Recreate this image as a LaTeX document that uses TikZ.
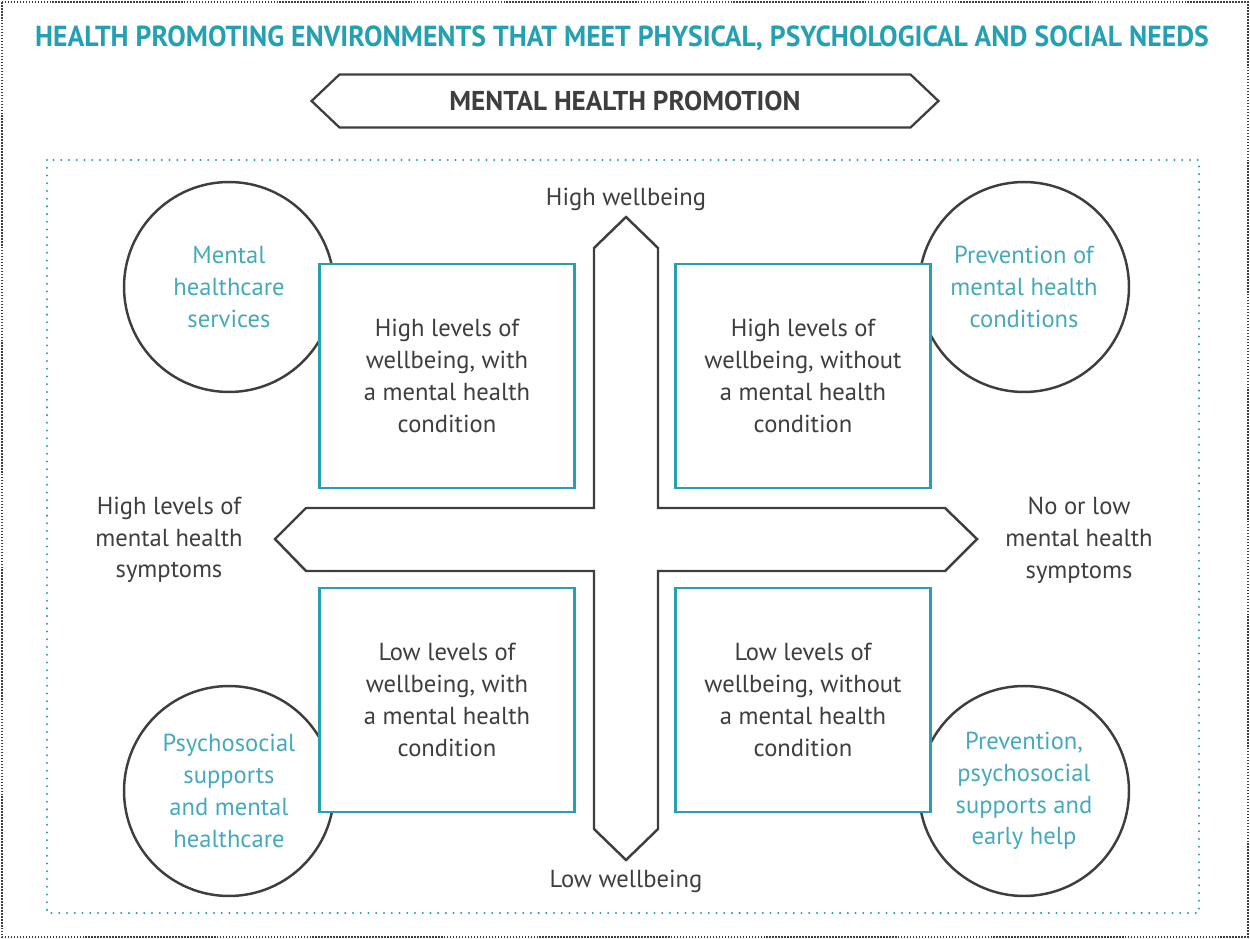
\documentclass[tikz,border=0pt]{standalone}
\usepackage{fontspec}
\usepackage{graphicx}
\setmainfont{PT Sans}
\usepackage{tikz}
\usetikzlibrary{shapes.symbols}
\definecolor{teal1}{HTML}{25A0B2}
\definecolor{teal2}{HTML}{45A9BC}
\definecolor{dgray}{HTML}{3E3E3E}
\tikzset{every node/.style={font=\fontsize{14}{18.1}\selectfont,text=dgray}}
\tikzstyle{banner}=[signal,signal to=west and east,signal pointer angle=87,draw=dgray,line width=1.3pt,minimum width=12.54cm,minimum height=1.06cm,inner sep=0pt,font=\fontsize{15.5}{18}\selectfont\bfseries]
\tikzstyle{service}=[circle,draw=dgray,line width=1.4pt,minimum size=4.2cm,inner sep=0pt,align=center,text=teal2]
\tikzstyle{quadrant}=[rectangle,draw=teal1,fill=white,line width=1.4pt,minimum width=5.1cm,minimum height=4.48cm,inner sep=0pt,align=center]
\tikzstyle{axislabel}=[align=center,inner sep=0pt]

\begin{document}
\begin{tikzpicture}[x=0.02cm,y=-0.02cm]
	\useasboundingbox (0,0) rectangle (1250,939);
	\draw[dgray,line width=1pt,dash pattern=on 0.9pt off 0.8pt] (2,2) rectangle (1248,937);
	\draw[teal1,line width=1.3pt,line cap=round,dash pattern=on 0pt off 4.4pt] (47,160) rectangle (1199,913);
	
	\node at (622,38) (0) {\fontsize{16.5}{20}\selectfont\bfseries\color{teal1}\scalebox{0.955}[1]{HEALTH PROMOTING ENVIRONMENTS THAT MEET PHYSICAL, PSYCHOLOGICAL AND SOCIAL NEEDS}};
	\node at (625,101) [banner] (1) {MENTAL HEALTH PROMOTION};
	
	\node at (229,287) [service] (2) {Mental\\healthcare\\services};
	\node at (1024,287) [service] (3) {Prevention of\\mental health\\conditions};
	\node at (229,791) [service] (4) {Psychosocial\\supports\\and mental\\healthcare};
	\node at (1024,791) [service] (5) {Prevention,\\psychosocial\\supports and\\early help};
	
	\node at (447,376) [quadrant] (6) {High levels of\\wellbeing, with\\a mental health\\condition};
	\node at (803,376) [quadrant] (7) {High levels of\\wellbeing, without\\a mental health\\condition};
	\node at (447,700) [quadrant] (8) {Low levels of\\wellbeing, with\\a mental health\\condition};
	\node at (803,700) [quadrant] (9) {Low levels of\\wellbeing, without\\a mental health\\condition};
	
	% the cross of the two axes
	\draw[dgray,line width=1.4pt,line join=miter] (626,217) -- (658,248) -- (658,508) -- (945,508) -- (977,539) -- (945,571) -- (658,571) -- (658,829) -- (626,860) -- (594,829) -- (594,571) -- (306,571) -- (275,539) -- (306,508) -- (594,508) -- (594,248) -- cycle;
	
	\node at (626,199) [axislabel] (10) {High wellbeing};
	\node at (626,881) [axislabel] (11) {Low wellbeing};
	\node at (169,540) [axislabel] (12) {High levels of\\mental health\\symptoms};
	\node at (1079,540) [axislabel] (13) {No or low\\mental health\\symptoms};
\end{tikzpicture}
\end{document}
